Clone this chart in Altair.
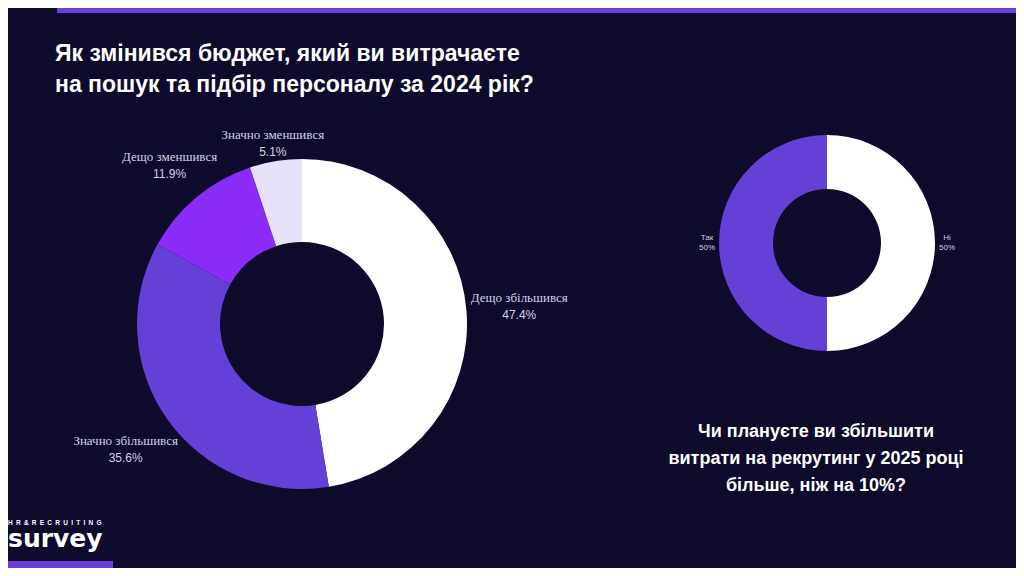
import altair as alt
import pandas as pd

# ---- data ----
budget_cats = ["Дещо збільшився", "Значно збільшився", "Дещо зменшився", "Значно зменшився"]
budget_vals = [47.4, 35.6, 11.9, 5.1]
budget_colors = ["#ffffff", "#6440d6", "#8a2cf5", "#e9e2fb"]

plan_cats = ["Ні", "Так"]
plan_vals = [50, 50]
plan_colors = ["#ffffff", "#6440d6"]

title_main = ["Як змінився бюджет, який ви витрачаєте", "на пошук та підбір персоналу за 2024 рік?"]
title_plan = ["Чи плануєте ви збільшити", "витрати на рекрутинг у 2025 році", "більше, ніж на 10%?"]

# ---- layout ----
BG = "#0d0a2b"
PURPLE = "#6a3fd6"
LABEL = "#d4d2e4"
W, H = 1008, 560
OFF = 8
BIG_C = (302 - OFF, 324 - OFF)
BIG_R = (82, 165)
SMALL_C = (827 - OFF, 243 - OFF)
SMALL_R = (54, 108)
big_label_r = [218, 216, 207, 183]
small_label_r = [120, 120]


def make_df(cats, vals):
    df = pd.DataFrame({"cat": cats, "val": vals})
    df["order"] = range(len(df))
    df["mid"] = df["val"].cumsum() - df["val"] / 2
    return df


big = make_df(budget_cats, budget_vals)
big["pct"] = big["val"].map(lambda v: f"{v:.1f}%")
small = make_df(plan_cats, plan_vals)
small["pct"] = small["val"].map(lambda v: f"{v:g}%")

color_scale = alt.Scale(domain=budget_cats + plan_cats, range=budget_colors + plan_colors)
theta_scale = alt.Scale(domain=[0, 100])


def donut(df, center, radii):
    return alt.Chart(df).mark_arc(innerRadius=radii[0], outerRadius=radii[1]).encode(
        theta=alt.Theta("val:Q", stack=True, scale=theta_scale),
        order=alt.Order("order:Q"),
        color=alt.Color("cat:N", scale=color_scale, legend=None),
        x=alt.value(center[0]),
        y=alt.value(center[1]),
    )


def labels(df, center, radii, name_font, name_size, pct_size, dy_name, dy_pct):
    layers = []
    for i in range(len(df)):
        row = df.iloc[[i]]
        base = alt.Chart(row).encode(
            theta=alt.Theta("mid:Q", stack=None, scale=theta_scale),
            x=alt.value(center[0]),
            y=alt.value(center[1]),
        )
        layers.append(base.mark_text(radius=radii[i], dy=dy_name, font=name_font, fontSize=name_size,
                                     color=LABEL, align="center", baseline="middle").encode(text="cat:N"))
        layers.append(base.mark_text(radius=radii[i], dy=dy_pct, font="Liberation Sans", fontSize=pct_size,
                                     color=LABEL, align="center", baseline="middle").encode(text="pct:N"))
    return layers


anchor = pd.DataFrame({"a": [0]})

top_bar = alt.Chart(anchor).mark_rect(color=PURPLE).encode(
    x=alt.value(57 - OFF), x2=alt.value(W), y=alt.value(0), y2=alt.value(5))
bottom_bar = alt.Chart(anchor).mark_rect(color=PURPLE).encode(
    x=alt.value(0), x2=alt.value(113 - OFF), y=alt.value(H - 7), y2=alt.value(H))

t1 = alt.Chart(anchor).mark_text(align="left", baseline="alphabetic", font="Liberation Sans",
                                 fontWeight="bold", fontSize=23, lineHeight=31, color="#ffffff").encode(
    x=alt.value(55 - OFF), y=alt.value(61 - OFF), text=alt.value(title_main))
t2 = alt.Chart(anchor).mark_text(align="center", baseline="alphabetic", font="Liberation Sans",
                                 fontWeight="bold", fontSize=18, lineHeight=27, color="#ffffff").encode(
    x=alt.value(816 - OFF), y=alt.value(437 - OFF), text=alt.value(title_plan))

logo_small = alt.Chart(anchor).mark_text(align="left", baseline="middle", font="Liberation Sans",
                                         fontWeight="bold", fontSize=6.5,
                                         color="#ffffff").encode(
    x=alt.value(8 - OFF), y=alt.value(523 - OFF),
    text=alt.value("\u2002".join("HR & RECRUITING".replace(" ", ""))))
logo_big = alt.Chart(anchor).mark_text(align="left", baseline="alphabetic", font="DejaVu Sans",
                                       fontWeight="bold", fontSize=25,
                                       color="#ffffff").encode(
    x=alt.value(7 - OFF + 1), y=alt.value(547 - OFF), text=alt.value("survey"))

layers = [top_bar, bottom_bar, t1, t2, logo_small, logo_big,
          donut(big, BIG_C, BIG_R), donut(small, SMALL_C, SMALL_R)]
layers += labels(big, BIG_C, big_label_r, "Liberation Serif", 13, 12, -8, 9)
layers += labels(small, SMALL_C, small_label_r, "Liberation Sans", 8, 8, -5, 5)

chart = alt.layer(*layers).properties(
    width=W, height=H, background=BG, padding=0,
    autosize=alt.AutoSizeParams(type="none"),
).configure_view(stroke=None)

chart.save("out.html", embed_options={"renderer": "svg", "actions": False})
